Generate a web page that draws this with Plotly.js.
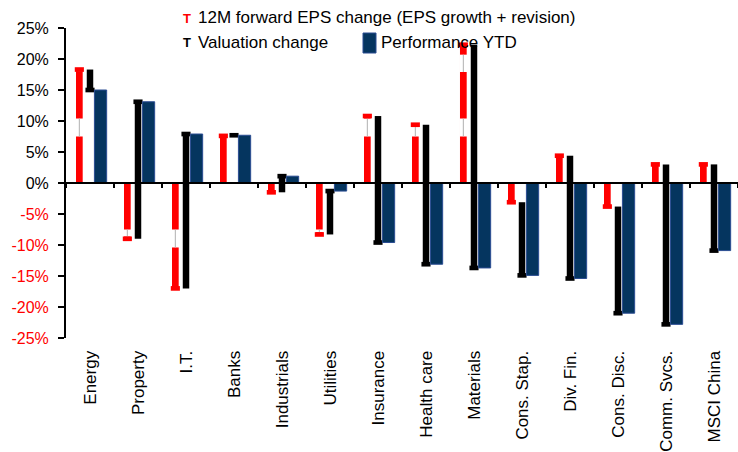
<!DOCTYPE html>
<html>
<head>
<meta charset="utf-8">
<script src="https://cdn.plot.ly/plotly-3.0.1.min.js"></script>
<style>html,body{margin:0;padding:0;background:#fff;}#chart{width:738px;height:452px;}</style>
</head>
<body>
<div id="chart"></div>
<script>
// ---- data ----
const categories = ['Energy','Property','I.T.','Banks','Industrials','Utilities','Insurance','Health care','Materials','Cons. Stap.','Div. Fin.','Cons. Disc.','Comm. Svcs.','MSCI China'];
const epsChange = [18.3, -9.0, -17.0, 7.6, -1.5, -8.3, 10.8, 9.4, 22.3, -3.1, 4.4, -3.8, 3.0, 3.0];
const valuationChange = [-3.3, 22.1, 24.9, 0.1, 2.6, 7.0, -20.4, -22.5, -36.0, -11.8, -19.8, -17.2, -25.8, -13.9];
const performanceYTD = [15.0, 13.1, 7.9, 7.7, 1.1, -1.3, -9.6, -13.1, -13.7, -14.9, -15.4, -21.0, -22.8, -10.9];
const yTickVals = [-25, -20, -15, -10, -5, 0, 5, 10, 15, 20, 25];
const yTickText = ['-25%', '-20%', '-15%', '-10%', '-5%', '0%', '5%', '10%', '15%', '20%', '25%'];
const seriesNames = ['12M forward EPS change (EPS growth + revision)', 'Valuation change', 'Performance YTD'];

// ---- styling ----
const RED = '#ff0000', BLACK = '#000000', BLUE = '#05355f', BLUE_EDGE = '#2a4c92';
const CAP = 0.75;                 // cap thickness (axis units)
const GAP_BANDS = [[7.5, 10.4], [17.9, 20.7]]; // rendering breaks in the red bars
const FONT = 'Liberation Sans, Arial, sans-serif';

const endVals = epsChange.map((e, i) => e + valuationChange[i]);
const sgn = v => (v < 0 ? -1 : 1);

const traces = [];
// red EPS bars
traces.push({type: 'bar', x: categories, y: epsChange, base: 0, width: 0.14, offset: -0.292,
  marker: {color: RED, line: {width: 0}}, name: seriesNames[0], showlegend: false, hoverinfo: 'skip'});
// white breaks + thin grey line inside them
GAP_BANDS.forEach(band => {
  const b = [], h = [];
  epsChange.forEach(e => {
    const lim = Math.abs(e) - CAP / 2;
    const lo = band[0], hi = Math.min(band[1], lim);
    if (hi > lo) { b.push(sgn(e) * lo); h.push(sgn(e) * (hi - lo)); }
    else { b.push(0); h.push(null); }
  });
  traces.push({type: 'bar', x: categories, y: h, base: b, width: 0.16, offset: -0.302,
    marker: {color: '#ffffff', line: {width: 0}}, showlegend: false, hoverinfo: 'skip'});
  traces.push({type: 'bar', x: categories, y: h, base: b, width: 0.022, offset: -0.233,
    marker: {color: '#b4b4b4', line: {width: 0}}, showlegend: false, hoverinfo: 'skip'});
});
// red caps
traces.push({type: 'bar', x: categories, y: epsChange.map(() => CAP), base: epsChange.map(e => e - CAP / 2),
  width: 0.19, offset: -0.317, marker: {color: RED, line: {width: 0}}, showlegend: false, hoverinfo: 'skip'});
// black valuation bars (from EPS to end)
traces.push({type: 'bar', x: categories, y: valuationChange, base: epsChange, width: 0.135, offset: -0.0675,
  marker: {color: BLACK, line: {width: 0}}, name: seriesNames[1], showlegend: false, hoverinfo: 'skip'});
// black caps
traces.push({type: 'bar', x: categories, y: endVals.map(() => CAP), base: endVals.map(v => v - CAP / 2),
  width: 0.19, offset: -0.095, marker: {color: BLACK, line: {width: 0}}, showlegend: false, hoverinfo: 'skip'});
// blue performance bars
traces.push({type: 'bar', x: categories, y: performanceYTD, base: 0, width: 0.255, offset: 0.092,
  marker: {color: BLUE, line: {color: BLUE_EDGE, width: 1}}, name: seriesNames[2], showlegend: false, hoverinfo: 'skip'});

// legend (built from annotations)
const plotL = 66, plotW = 672, plotT = 28, plotH = 310;
const px = x => (x - plotL) / plotW;
const py = y => (plotT + plotH - y) / plotH;
const annotations = [
  {xref: 'paper', yref: 'paper', x: px(187), y: py(18), text: '<b>T</b>', showarrow: false,
   font: {family: FONT, size: 13, color: RED}, xanchor: 'center', yanchor: 'middle'},
  {xref: 'paper', yref: 'paper', x: px(196), y: py(17), text: seriesNames[0], showarrow: false,
   font: {family: FONT, size: 17, color: '#000'}, xanchor: 'left', yanchor: 'middle'},
  {xref: 'paper', yref: 'paper', x: px(187), y: py(43), text: '<b>T</b>', showarrow: false,
   font: {family: FONT, size: 13, color: BLACK}, xanchor: 'center', yanchor: 'middle'},
  {xref: 'paper', yref: 'paper', x: px(196), y: py(42), text: seriesNames[1], showarrow: false,
   font: {family: FONT, size: 17, color: '#000'}, xanchor: 'left', yanchor: 'middle'},
  {xref: 'paper', yref: 'paper', x: px(379), y: py(42), text: seriesNames[2], showarrow: false,
   font: {family: FONT, size: 17, color: '#000'}, xanchor: 'left', yanchor: 'middle'}
];
const shapes = [
  {type: 'rect', xref: 'paper', yref: 'paper', x0: px(363), x1: px(376), y0: py(53), y1: py(33),
   fillcolor: BLUE, line: {color: BLUE_EDGE, width: 1}}
];

const layout = {
  width: 738, height: 452,
  margin: {l: plotL, r: 0, t: plotT, b: 452 - plotT - plotH, pad: 0},
  paper_bgcolor: '#ffffff', plot_bgcolor: '#ffffff',
  barmode: 'overlay',
  showlegend: false,
  font: {family: FONT, color: '#000'},
  xaxis: {
    type: 'category', anchor: 'free', position: 0.5,
    showline: true, linecolor: '#000', linewidth: 2,
    ticks: 'outside', tickson: 'boundaries', ticklen: 4, tickwidth: 2, tickcolor: '#000',
    showgrid: false, zeroline: false,
    tickangle: -90, tickfont: {family: FONT, size: 17, color: '#000'},
    ticklabelstandoff: 160,
    range: [-0.5, categories.length - 0.5]
  },
  yaxis: {
    range: [-25, 25], tickvals: yTickVals,
    ticktext: yTickText.map((t, i) => yTickVals[i] < 0 ? '<span style="color:#ff0000">' + t + '</span>' : t),
    showline: true, linecolor: '#000', linewidth: 2,
    ticks: 'outside', ticklen: 6, tickwidth: 2, tickcolor: '#000',
    showgrid: false, zeroline: false,
    tickfont: {family: FONT, size: 16, color: '#000'},
    ticklabelstandoff: 6
  },
  annotations: annotations,
  shapes: shapes
};

Plotly.newPlot('chart', traces, layout, {staticPlot: true, displayModeBar: false});
</script>
</body>
</html>
